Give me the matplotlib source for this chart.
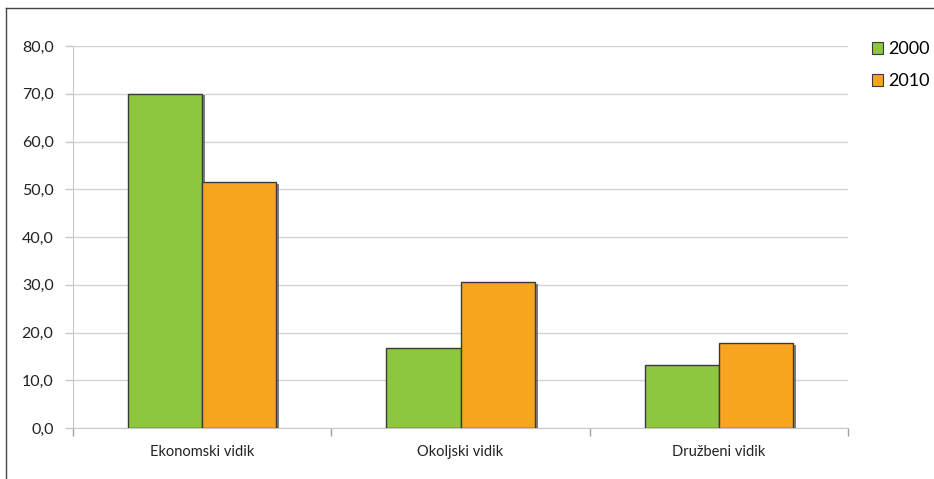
import matplotlib
matplotlib.use("Agg")
import matplotlib.pyplot as plt
import matplotlib.patheffects as pe
from matplotlib.lines import Line2D
import numpy as np

categories = ["Ekonomski vidik", "Okoljski vidik", "Družbeni vidik"]
series_names = ["2000", "2010"]
vals_2000 = [70.0, 16.8, 13.2]
vals_2010 = [51.5, 30.6, 17.8]
yticks = [0, 10, 20, 30, 40, 50, 60, 70, 80]

plt.rcParams["font.family"] = ["Lato", "DejaVu Sans"]

W, H = 934, 479
fig = plt.figure(figsize=(W / 100, H / 100), dpi=100)
ax = fig.add_axes([73 / W, 51 / H, (848 - 73) / W, (428 - 46) / H])

ind = np.arange(len(categories))
width = 0.287
b1 = ax.bar(ind - width / 2, vals_2000, width, color="#8DC63F", edgecolor="#3a3a3a",
            linewidth=1.0, label=series_names[0], zorder=3)
b2 = ax.bar(ind + width / 2, vals_2010, width, color="#F7A51E", edgecolor="#3a3a3a",
            linewidth=1.0, label=series_names[1], zorder=3)

ax.set_xlim(-0.5, len(categories) - 0.5)
ax.set_ylim(0, 80)
ax.set_yticks(yticks)
ax.set_yticklabels([f"{v:.1f}".replace(".", ",") for v in yticks], fontsize=11.5, color="#222222")
ax.yaxis.grid(True, color="#d4d4d4", linewidth=1.0, zorder=0)
ax.set_axisbelow(True)

ax.set_xticks(ind)
ax.set_xticklabels(categories, fontsize=10.5, color="#222222")
ax.tick_params(axis="x", which="major", length=0, pad=12)
ax.set_xticks(np.arange(len(categories) + 1) - 0.5, minor=True)
ax.tick_params(axis="x", which="minor", length=6, color="#a0a0a0", width=1)
ax.tick_params(axis="y", length=6, color="#c8c8c8", width=1, pad=8)

for s in ["top", "right"]:
    ax.spines[s].set_visible(False)
ax.spines["left"].set_color("#c8c8c8")
ax.spines["bottom"].set_color("#c8c8c8")

leg = ax.legend(loc="upper left", bbox_to_anchor=(1.01, 1.055), frameon=False, fontsize=13,
                handlelength=0.6, handleheight=0.6, handletextpad=0.3, labelspacing=0.9)
for h in leg.legend_handles:
    h.set_edgecolor("#3a3a3a")
    h.set_linewidth(0.8)

# drop shadow on the bars only (after legend so handles stay plain)
shadow = [pe.SimplePatchShadow(offset=(2.2, -1.2), shadow_rgbFace="#555555", alpha=0.75), pe.Normal()]
for b in list(b1) + list(b2):
    b.set_path_effects(shadow)

fig.add_artist(Line2D([6 / W, 6 / W], [0, 1 - 8 / H], color="#444444", linewidth=1.0))
fig.add_artist(Line2D([6 / W, 1], [1 - 8 / H, 1 - 8 / H], color="#444444", linewidth=1.0))

fig.savefig("out.png", dpi=100)
